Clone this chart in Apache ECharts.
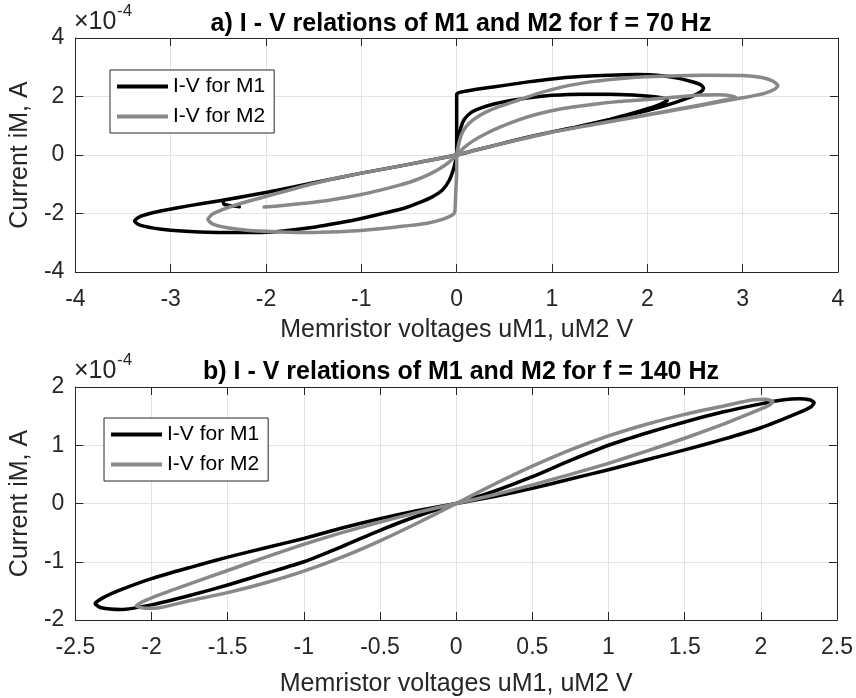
<!DOCTYPE html>
<html>
<head>
<meta charset="utf-8">
<script src="https://cdn.jsdelivr.net/npm/echarts@6/dist/echarts.min.js"></script>
<style>
  html, body { margin: 0; padding: 0; background: #ffffff; }
  #chart { width: 856px; height: 698px; }
</style>
</head>
<body>
<div id="chart"></div>
<script>
// I-V loops of two memristors, currents in units of 1e-4 A, voltages in V.

// --- f = 70 Hz ---
const titleA = 'a) I - V relations of M1 and M2 for f = 70 Hz';
const xTicksA = { min: -4, max: 4, step: 1 };
const yTicksA = { min: -4, max: 4, step: 2 };
// M1: start from origin, first (smaller) loop, then the full cycle
const m1_70 = [
  [0,0],[0.01,0.3],[0.025,0.6],[0.045,0.95],[0.08,1.22],[0.15,1.45],[0.25,1.6],[0.4,1.75],
  [0.6,1.88],[0.8,1.97],[1.0,2.04],[1.3,2.08],[1.6,2.08],[1.85,2.05],[2.05,2.0],[2.17,1.94],
  [2.21,1.88],[2.18,1.8],[2.08,1.66],[1.9,1.48],[1.7,1.3],[1.5,1.12],[1.2,0.92],[1.0,0.79],
  [0.7,0.57],[0.4,0.33],[0.2,0.17],[0,0],
  [-0.3,-0.19],[-0.6,-0.38],[-1.0,-0.62],[-1.5,-0.95],[-2.0,-1.28],[-2.5,-1.57],[-2.8,-1.73],
  [-3.05,-1.88],[-3.22,-2.0],[-3.33,-2.12],[-3.38,-2.26],[-3.33,-2.39],[-3.18,-2.5],[-3.0,-2.57],
  [-2.7,-2.63],[-2.3,-2.65],[-1.9,-2.62],[-1.5,-2.47],[-1.2,-2.3],[-1.0,-2.17],[-0.75,-1.98],
  [-0.55,-1.82],[-0.4,-1.64],[-0.26,-1.44],[-0.15,-1.2],[-0.08,-0.88],[-0.04,-0.55],[-0.015,-0.25],[0,0],
  [0,0.7],[0,1.4],[0,2.08],[0.04,2.15],[0.12,2.2],[0.3,2.29],[0.5,2.38],[0.75,2.5],[1.0,2.6],
  [1.3,2.68],[1.6,2.73],[1.9,2.75],[2.1,2.73],[2.3,2.64],[2.45,2.52],[2.56,2.4],[2.59,2.28],
  [2.56,2.16],[2.48,2.02],[2.35,1.86],[2.2,1.7],[2.0,1.52],[1.8,1.36],[1.5,1.14],[1.2,0.92],
  [1.0,0.79],[0.7,0.57],[0.4,0.33],[0.2,0.17],[0,0],
  [-0.3,-0.19],[-0.6,-0.38],[-1.0,-0.62],[-1.5,-0.95],[-2.0,-1.28],[-2.3,-1.46],[-2.45,-1.57],
  [-2.44,-1.68],[-2.36,-1.74],[-2.28,-1.77]
];
// M2: start on the negative side, first loop, then the full cycle
const m2_70 = [
  [-2.02,-1.78],[-1.8,-1.72],[-1.6,-1.65],[-1.39,-1.57],[-1.2,-1.47],[-1.0,-1.35],[-0.8,-1.2],
  [-0.6,-1.03],[-0.45,-0.88],[-0.3,-0.68],[-0.18,-0.47],[-0.08,-0.24],[0,0],
  [0.08,0.26],[0.18,0.5],[0.3,0.72],[0.46,0.96],[0.65,1.2],[0.85,1.4],[1.1,1.58],[1.4,1.72],
  [1.7,1.83],[2.0,1.9],[2.3,1.98],[2.55,2.05],[2.75,2.06],[2.88,2.02],[2.93,1.96],[2.8,1.87],
  [2.5,1.68],[2.2,1.5],[2.0,1.38],[1.7,1.2],[1.4,1.02],[1.0,0.78],[0.7,0.56],[0.4,0.33],[0.2,0.17],[0,0],
  [-0.3,-0.19],[-0.6,-0.38],[-1.0,-0.62],[-1.3,-0.82],[-1.6,-1.06],[-1.85,-1.28],[-2.05,-1.46],
  [-2.26,-1.65],[-2.45,-1.86],[-2.56,-2.02],[-2.61,-2.2],[-2.56,-2.36],[-2.42,-2.48],[-2.2,-2.57],
  [-1.9,-2.62],[-1.5,-2.65],[-1.1,-2.6],[-0.8,-2.52],[-0.55,-2.43],[-0.32,-2.34],[-0.15,-2.2],
  [-0.05,-2.06],[-0.02,-1.95],[-0.01,-1.3],[0,-0.6],[0,0],
  [0.02,0.35],[0.05,0.7],[0.1,0.98],[0.18,1.22],[0.29,1.44],[0.45,1.66],[0.65,1.88],[0.85,2.1],
  [1.1,2.32],[1.4,2.5],[1.85,2.65],[2.2,2.7],[2.6,2.73],[3.0,2.72],[3.2,2.65],[3.32,2.52],
  [3.37,2.37],[3.33,2.24],[3.22,2.1],[2.97,1.94],[2.5,1.66],[2.0,1.37],[1.5,1.08],[1.0,0.78],
  [0.5,0.41],[0,0]
];

// --- f = 140 Hz ---
const titleB = 'b) I - V relations of M1 and M2 for f = 140 Hz';
const xTicksB = { min: -2.5, max: 2.5, step: 0.5 };
const yTicksB = { min: -2, max: 2, step: 1 };
const m1_140 = [
  [0,0],[0.25,0.21],[0.5,0.46],[0.75,0.74],[1.0,1.0],[1.25,1.21],[1.5,1.4],[1.75,1.57],[2.0,1.71],
  [2.15,1.78],[2.25,1.8],[2.32,1.78],[2.35,1.73],[2.33,1.66],[2.25,1.56],[2.0,1.3],[1.75,1.1],
  [1.5,0.92],[1.25,0.75],[1.0,0.58],[0.75,0.42],[0.5,0.26],[0.25,0.12],[0,0],
  [-0.25,-0.12],[-0.5,-0.26],[-0.75,-0.42],[-1.0,-0.6],[-1.25,-0.76],[-1.5,-0.92],[-1.75,-1.1],
  [-2.0,-1.29],[-2.2,-1.48],[-2.32,-1.62],[-2.37,-1.72],[-2.33,-1.79],[-2.2,-1.82],[-2.0,-1.74],
  [-1.75,-1.58],[-1.5,-1.4],[-1.25,-1.2],[-1.0,-1.0],[-0.75,-0.74],[-0.5,-0.46],[-0.25,-0.21],[0,0]
];
const m2_140 = [
  [0,0],[0.25,0.33],[0.5,0.64],[0.75,0.92],[1.0,1.16],[1.25,1.36],[1.5,1.53],[1.75,1.67],
  [1.95,1.78],[2.03,1.79],[2.08,1.75],[2.05,1.68],[1.95,1.57],[1.75,1.36],[1.5,1.12],[1.25,0.9],
  [1.0,0.69],[0.75,0.5],[0.5,0.32],[0.25,0.15],[0,0],
  [-0.25,-0.15],[-0.5,-0.32],[-0.75,-0.5],[-1.0,-0.7],[-1.25,-0.92],[-1.5,-1.15],[-1.75,-1.38],
  [-1.95,-1.57],[-2.06,-1.69],[-2.1,-1.76],[-2.03,-1.8],[-1.95,-1.79],[-1.75,-1.67],[-1.5,-1.53],
  [-1.25,-1.36],[-1.0,-1.16],[-0.75,-0.92],[-0.5,-0.64],[-0.25,-0.33],[0,0]
];

const seriesNames = ['I-V for M1', 'I-V for M2'];
const xName = 'Memristor voltages uM1, uM2 V';
const yName = 'Current iM, A';
const scaleMain = '\u00d710';
const scaleExp = '-4';

const FONT = '"Liberation Sans", Arial, Helvetica, sans-serif';
const AXIS_COLOR = '#262626';
const BLACK = '#000000';
const GRAY = '#888888';

const frames = [
  { left: 74, top: 38, width: 764, height: 234 },
  { left: 74, top: 387, width: 764, height: 235 }
];
const xNameGaps = [46, 52];

function mainX(i, t) {
  return {
    type: 'value', gridIndex: i, position: 'bottom', min: t.min, max: t.max, interval: t.step,
    name: xName, nameLocation: 'middle', nameGap: xNameGaps[i],
    nameTextStyle: { fontFamily: FONT, fontSize: 25, color: AXIS_COLOR },
    axisLine: { show: true, onZero: false, lineStyle: { color: AXIS_COLOR, width: 1 } },
    axisTick: { show: true, inside: true, length: 8, lineStyle: { color: AXIS_COLOR } },
    axisLabel: { fontFamily: FONT, fontSize: 23, color: AXIS_COLOR, margin: 16 },
    splitLine: { show: true, lineStyle: { color: '#e3e3e3', width: 1 } }
  };
}
function sideX(i, t) {
  return {
    type: 'value', gridIndex: i, position: 'top', min: t.min, max: t.max, interval: t.step,
    axisLine: { show: true, onZero: false, lineStyle: { color: AXIS_COLOR, width: 1 } },
    axisTick: { show: true, inside: true, length: 8, lineStyle: { color: AXIS_COLOR } },
    axisLabel: { show: false }, splitLine: { show: false }
  };
}
function mainY(i, t) {
  return {
    type: 'value', gridIndex: i, position: 'left', min: t.min, max: t.max, interval: t.step,
    name: yName, nameLocation: 'middle', nameGap: 41, nameRotate: 90,
    nameTextStyle: { fontFamily: FONT, fontSize: 25, color: AXIS_COLOR },
    axisLine: { show: true, onZero: false, lineStyle: { color: AXIS_COLOR, width: 1 } },
    axisTick: { show: true, inside: true, length: 8, lineStyle: { color: AXIS_COLOR } },
    axisLabel: { fontFamily: FONT, fontSize: 23, color: AXIS_COLOR, margin: 11 },
    splitLine: { show: true, lineStyle: { color: '#e3e3e3', width: 1 } }
  };
}
function sideY(i, t) {
  return {
    type: 'value', gridIndex: i, position: 'right', min: t.min, max: t.max, interval: t.step,
    axisLine: { show: true, onZero: false, lineStyle: { color: AXIS_COLOR, width: 1 } },
    axisTick: { show: true, inside: true, length: 8, lineStyle: { color: AXIS_COLOR } },
    axisLabel: { show: false }, splitLine: { show: false }
  };
}
function curve(name, data, color, axisIdx) {
  return {
    type: 'line', name: name, data: data, xAxisIndex: axisIdx, yAxisIndex: axisIdx,
    showSymbol: false, symbol: 'none', smooth: 0.2, clip: true,
    lineStyle: { color: color, width: 3.5, join: 'round', cap: 'round' },
    itemStyle: { color: color }
  };
}
function legendAt(left, top) {
  return {
    data: seriesNames, orient: 'vertical', left: left, top: top,
    icon: 'rect', itemWidth: 51, itemHeight: 4, itemGap: 9,
    padding: [6, 9, 6, 7], borderColor: AXIS_COLOR, borderWidth: 1, backgroundColor: '#ffffff',
    selectedMode: false,
    textStyle: { fontFamily: FONT, fontSize: 21, color: '#000000' }
  };
}
function titleAt(text, top) {
  return {
    text: text, left: 456, top: top, textAlign: 'center',
    textStyle: { fontFamily: FONT, fontSize: 25, fontWeight: 'bold', color: '#000000' }
  };
}
// "x10^-4" multiplier drawn above the top-left corner of a frame
function scaleLabel(top) {
  return [
    { type: 'text', left: 74, top: top + 4,
      style: { text: scaleMain, fontFamily: FONT, fontSize: 25, fill: AXIS_COLOR } },
    { type: 'text', left: 117, top: top - 3,
      style: { text: scaleExp, fontFamily: FONT, fontSize: 17, fill: AXIS_COLOR } }
  ];
}

const chart = echarts.init(document.getElementById('chart'), null, { renderer: 'canvas' });
chart.setOption({
  animation: false,
  backgroundColor: '#ffffff',
  title: [titleAt(titleA, 7), titleAt(titleB, 355)],
  grid: frames.map(f => Object.assign({ containLabel: false }, f)),
  xAxis: [mainX(0, xTicksA), sideX(0, xTicksA), mainX(1, xTicksB), sideX(1, xTicksB)],
  yAxis: [mainY(0, yTicksA), sideY(0, yTicksA), mainY(1, yTicksB), sideY(1, yTicksB)],
  legend: [legendAt(110, 70), legendAt(104, 418)],
  graphic: scaleLabel(6).concat(scaleLabel(355)),
  series: [
    curve(seriesNames[0], m1_70, BLACK, 0),
    curve(seriesNames[1], m2_70, GRAY, 0),
    curve(seriesNames[0], m1_140, BLACK, 2),
    curve(seriesNames[1], m2_140, GRAY, 2)
  ]
});
</script>
</body>
</html>
